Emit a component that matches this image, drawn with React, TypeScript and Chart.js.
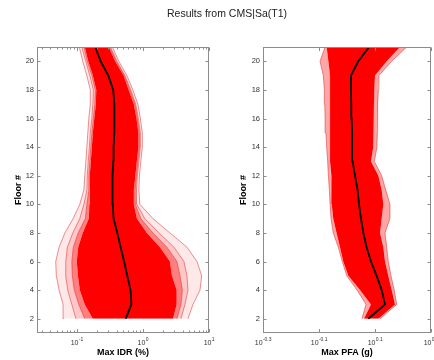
import React, { useEffect, useRef } from 'react';
import { Chart, registerables } from 'chart.js';

Chart.register(...registerables);

// ---------- data (floors 2..21) ----------
const floors = [2, 3, 4, 5, 6, 7, 8, 9, 10, 11, 12, 13, 14, 15, 16, 17, 18, 19, 20, 21];
const floorTicks = [2, 4, 6, 8, 10, 12, 14, 16, 18, 20];

// Max IDR (%)
const idrMedian = [0.55, 0.67, 0.65, 0.58, 0.52, 0.46, 0.41, 0.36, 0.35, 0.345, 0.35, 0.355, 0.36, 0.37, 0.37, 0.37, 0.355, 0.30, 0.23, 0.19];
const idrOuterLow = [0.0635, 0.062, 0.054, 0.049, 0.048, 0.054, 0.066, 0.088, 0.111, 0.128, 0.132, 0.137, 0.142, 0.147, 0.152, 0.16, 0.16, 0.142, 0.123, 0.109];
const idrMidLow = [0.097, 0.084, 0.073, 0.068, 0.068, 0.072, 0.087, 0.111, 0.128, 0.142, 0.144, 0.149, 0.155, 0.16, 0.169, 0.175, 0.178, 0.157, 0.137, 0.119];
const idrInnerLow = [0.132, 0.107, 0.0916, 0.0855, 0.084, 0.0885, 0.105, 0.1345, 0.142, 0.152, 0.152, 0.157, 0.163, 0.169, 0.178, 0.187, 0.19, 0.169, 0.144, 0.128];
const idrBandLow = [0.175, 0.132, 0.111, 0.104, 0.1, 0.105, 0.123, 0.152, 0.155, 0.157, 0.157, 0.163, 0.169, 0.175, 0.184, 0.194, 0.197, 0.175, 0.149, 0.132];
const idrBandHigh = [2.85, 3.24, 3.24, 2.75, 2.56, 1.81, 1.15, 0.81, 0.73, 0.73, 0.77, 0.81, 0.855, 0.855, 0.8, 0.73, 0.61, 0.51, 0.38, 0.305];
const idrInnerHigh = [3.27, 3.77, 3.96, 3.64, 3.27, 2.31, 1.42, 0.93, 0.77, 0.765, 0.8, 0.84, 0.885, 0.885, 0.826, 0.757, 0.635, 0.521, 0.394, 0.314];
const idrMidHigh = [3.77, 4.33, 4.81, 4.64, 4.18, 2.95, 1.75, 1.07, 0.81, 0.8, 0.826, 0.87, 0.916, 0.916, 0.855, 0.78, 0.657, 0.537, 0.406, 0.324];
const idrOuterHigh = [4.81, 5.73, 7.31, 7.75, 6.58, 4.64, 2.56, 1.42, 0.9, 0.87, 0.885, 0.93, 0.98, 0.98, 0.916, 0.84, 0.705, 0.573, 0.433, 0.345];

// Max PFA (g)
const pfaMedian = [1.191, 1.367, 1.33, 1.276, 1.218, 1.175, 1.144, 1.122, 1.104, 1.091, 1.068, 1.048, 1.045, 1.042, 1.039, 1.036, 1.033, 1.033, 1.097, 1.2];
const pfaOuterLow = [1.131, 1.169, 1.086, 0.998, 0.962, 0.931, 0.893, 0.877, 0.87, 0.865, 0.858, 0.853, 0.846, 0.841, 0.835, 0.833, 0.83, 0.823, 0.801, 0.835];
const pfaBandLow = [1.15, 1.218, 1.113, 1.011, 0.97, 0.944, 0.918, 0.893, 0.882, 0.882, 0.877, 0.87, 0.87, 0.87, 0.87, 0.87, 0.87, 0.87, 0.858, 0.846];
const pfaBandHigh = [1.294, 1.484, 1.444, 1.404, 1.367, 1.348, 1.312, 1.33, 1.348, 1.33, 1.294, 1.218, 1.241, 1.241, 1.241, 1.248, 1.252, 1.259, 1.386, 1.546];
const pfaOuterHigh = [1.312, 1.505, 1.475, 1.436, 1.404, 1.386, 1.367, 1.424, 1.424, 1.375, 1.33, 1.252, 1.279, 1.283, 1.283, 1.29, 1.294, 1.3, 1.444, 1.634];

// x ticks
const idrMajorTicks = [0.1, 1, 10];
const idrMajorExps = ['-1', '0', '1'];
const idrMinorTicks = [0.03, 0.04, 0.05, 0.06, 0.07, 0.08, 0.09, 0.2, 0.3, 0.4, 0.5, 0.6, 0.7, 0.8, 0.9, 2, 3, 4, 5, 6, 7, 8, 9];
const pfaMajorExps = ['-0.3', '-0.1', '0.1', '0.3'];
const pfaMajorTicks = pfaMajorExps.map((e) => Math.pow(10, parseFloat(e)));
const pfaMinorTicks: number[] = [];

const FONT = '"Liberation Sans", Arial, Helvetica, sans-serif';
const RED = '#ff0000';
const THIN = 'rgba(215,30,30,0.7)';

const toPts = (vals: number[]) => vals.map((v, i) => ({ x: v, y: floors[i] }));

function ds(vals: number[], o: any) {
  return {
    data: toPts(vals),
    pointRadius: 0,
    tension: 0,
    borderWidth: 0.7,
    borderColor: THIN,
    backgroundColor: 'transparent',
    fill: false,
    ...o,
  };
}

const matlabBox = {
  id: 'matlabBox',
  afterDraw(chart: any, _args: any, opts: any) {
    const ctx = chart.ctx;
    const xs = chart.scales.x;
    const ys = chart.scales.y;
    const { left, right, top, bottom } = chart.chartArea;
    const L = Math.round(left) + 0.5;
    const R = Math.round(right) - 0.5;
    const T = Math.round(top) + 0.5;
    const B = Math.round(bottom) - 0.5;
    ctx.save();
    ctx.strokeStyle = '#8c8c8c';
    ctx.lineWidth = 1;
    ctx.strokeRect(L, T, R - L, B - T);
    ctx.beginPath();
    const tick = (px: number, len: number) => {
      const p = Math.round(px) + 0.5;
      ctx.moveTo(p, B);
      ctx.lineTo(p, B - len);
      ctx.moveTo(p, T);
      ctx.lineTo(p, T + len);
    };
    opts.major.forEach((v: number) => tick(xs.getPixelForValue(v), 3.5));
    opts.minor.forEach((v: number) => tick(xs.getPixelForValue(v), 2));
    floorTicks.forEach((v) => {
      const p = Math.round(ys.getPixelForValue(v)) + 0.5;
      ctx.moveTo(L, p);
      ctx.lineTo(L + 3, p);
      ctx.moveTo(R, p);
      ctx.lineTo(R - 3, p);
    });
    ctx.stroke();
    // x tick labels with superscript exponents
    ctx.fillStyle = '#333';
    ctx.textBaseline = 'middle';
    ctx.textAlign = 'left';
    const baseY = 343;
    opts.major.forEach((v: number, i: number) => {
      const px = xs.getPixelForValue(v);
      const exp = opts.exps[i];
      ctx.font = `7px ${FONT}`;
      const wb = ctx.measureText('10').width;
      ctx.font = `5px ${FONT}`;
      const we = ctx.measureText(exp).width;
      const start = px - (wb + we) / 2;
      ctx.font = `7px ${FONT}`;
      ctx.fillText('10', start, baseY);
      ctx.font = `5px ${FONT}`;
      ctx.fillText(exp, start + wb + 0.3, baseY - 3.5);
    });
    ctx.restore();
  },
};

function makeConfig(opts: {
  datasets: any[];
  xMin: number;
  xMax: number;
  xTitle: string;
  yAxisWidth: number;
  yTitlePad: number;
  padRight: number;
  major: number[];
  minor: number[];
  exps: string[];
}) {
  return {
    type: 'line',
    data: { datasets: opts.datasets },
    plugins: [matlabBox],
    options: {
      animation: false,
      responsive: false,
      maintainAspectRatio: false,
      indexAxis: 'y',
      layout: { padding: { top: 47, right: opts.padRight, left: 0, bottom: 0 } },
      events: [],
      plugins: {
        legend: { display: false },
        tooltip: { enabled: false },
        title: { display: false },
        filler: { drawTime: 'beforeDatasetsDraw', propagate: false },
        matlabBox: { major: opts.major, minor: opts.minor, exps: opts.exps },
      },
      scales: {
        x: {
          type: 'logarithmic',
          position: 'bottom',
          min: opts.xMin,
          max: opts.xMax,
          grid: { display: false, drawTicks: false },
          border: { display: false },
          ticks: { display: false },
          afterBuildTicks: (s: any) => {
            s.ticks = [...opts.major, ...opts.minor].sort((a, b) => a - b).map((v) => ({ value: v }));
          },
          afterFit: (s: any) => {
            s.height = 27;
          },
          title: {
            display: true,
            text: opts.xTitle,
            color: '#000',
            font: { family: FONT, size: 9, weight: 'bold' },
            padding: { top: 0, bottom: 2 },
          },
        },
        y: {
          type: 'linear',
          position: 'left',
          min: 1,
          max: 21,
          grid: { display: false, drawTicks: false },
          border: { display: false },
          afterBuildTicks: (s: any) => {
            s.ticks = floorTicks.map((v) => ({ value: v }));
          },
          afterFit: (s: any) => {
            s.width = opts.yAxisWidth;
          },
          ticks: {
            color: '#333',
            padding: 3,
            font: { family: FONT, size: 7.5 },
            callback: (v: any) => String(v),
          },
          title: {
            display: true,
            text: 'Floor #',
            color: '#000',
            font: { family: FONT, size: 9, weight: 'bold' },
            padding: { top: opts.yTitlePad, bottom: 0 },
          },
        },
      },
    },
  };
}

function idrDatasets() {
  return [
    ds(idrMedian, { borderColor: '#000', borderWidth: 1.8 }),
    ds(idrOuterLow, { fill: 2, backgroundColor: 'rgba(255,0,0,0.09)' }),
    ds(idrMidLow, { fill: 3, backgroundColor: 'rgba(255,0,0,0.22)' }),
    ds(idrInnerLow, { fill: 4, backgroundColor: 'rgba(255,0,0,0.5)' }),
    ds(idrBandLow, { borderWidth: 0, fill: 5, backgroundColor: RED }),
    ds(idrBandHigh, { borderWidth: 0, fill: 6, backgroundColor: 'rgba(255,0,0,0.5)' }),
    ds(idrInnerHigh, { fill: 7, backgroundColor: 'rgba(255,0,0,0.22)' }),
    ds(idrMidHigh, { fill: 8, backgroundColor: 'rgba(255,0,0,0.09)' }),
    ds(idrOuterHigh, {}),
  ];
}

function pfaDatasets() {
  return [
    ds(pfaMedian, { borderColor: '#000', borderWidth: 1.8 }),
    ds(pfaOuterLow, { fill: 2, backgroundColor: 'rgba(255,0,0,0.35)' }),
    ds(pfaBandLow, { borderWidth: 0, fill: 3, backgroundColor: RED }),
    ds(pfaBandHigh, { borderWidth: 0, fill: 4, backgroundColor: 'rgba(255,0,0,0.35)' }),
    ds(pfaOuterHigh, {}),
  ];
}

function ChartCanvas({ config, left, width }: { config: () => any; left: number; width: number }) {
  const ref = useRef<HTMLCanvasElement | null>(null);
  useEffect(() => {
    if (!ref.current) return;
    const chart = new Chart(ref.current, config());
    return () => chart.destroy();
  }, []);
  return (
    <canvas
      ref={ref}
      width={width}
      height={360}
      style={{ position: 'absolute', left, top: 0, width, height: 360 }}
    />
  );
}

export default function App() {
  return (
    <div
      style={{
        position: 'absolute',
        left: 0,
        top: 0,
        width: 434,
        height: 360,
        overflow: 'hidden',
        background: '#fff',
      }}
    >
      <ChartCanvas
        left={0}
        width={215}
        config={() =>
          makeConfig({
            datasets: idrDatasets(),
            xMin: 0.025,
            xMax: 10,
            xTitle: 'Max IDR (%)',
            yAxisWidth: 37,
            yTitlePad: 13.6,
            padRight: 6,
            major: idrMajorTicks,
            minor: idrMinorTicks,
            exps: idrMajorExps,
          })
        }
      />
      <ChartCanvas
        left={215}
        width={219}
        config={() =>
          makeConfig({
            datasets: pfaDatasets(),
            xMin: pfaMajorTicks[0],
            xMax: pfaMajorTicks[3],
            xTitle: 'Max PFA (g)',
            yAxisWidth: 48,
            yTitlePad: 23.6,
            padRight: 3,
            major: pfaMajorTicks,
            minor: pfaMinorTicks,
            exps: pfaMajorExps,
          })
        }
      />
      <div
        style={{
          position: 'absolute',
          top: 6,
          left: 0,
          width: 454,
          textAlign: 'center',
          fontFamily: FONT,
          fontSize: 10.5,
          lineHeight: '14px',
          color: '#222',
        }}
      >
        Results from CMS|Sa(T1)
      </div>
    </div>
  );
}
